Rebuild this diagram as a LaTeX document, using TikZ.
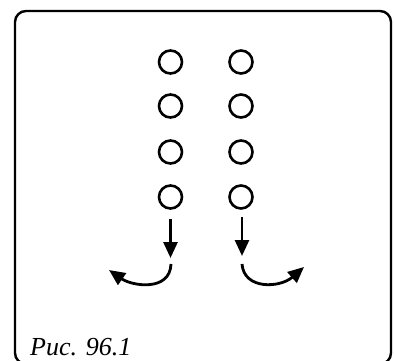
\documentclass[tikz,border=0pt]{standalone}
\usepackage{fontspec}
\setmainfont{Liberation Serif}
\usetikzlibrary{arrows.meta}
\begin{document}
\begin{tikzpicture}[x=1pt,y=-1pt,
  dot/.style={circle,draw,line width=2.6pt,minimum size=23pt,inner sep=0pt},
  arr/.style={line width=2.8pt,-{Triangle[width=14pt,length=16pt]}},
  frame/.style={draw,line width=2.4pt,rounded corners=11pt}]
\useasboundingbox (0,0) rectangle (394,361);
\draw[frame] (15,11) rectangle (391,364);
\foreach \i/\y in {1/62,2/106,3/152,4/197}{
  \node[dot] (l\i) at (170.5,\y) {};
  \node[dot] (r\i) at (241,\y) {};
}
\coordinate (la) at (170.5,219);
\coordinate (lb) at (170.5,258);
\coordinate (ra) at (242,217);
\coordinate (rb) at (242,256);
\draw[arr] (la) -- (lb);
\draw[arr] (ra) -- (rb);
\coordinate (lc) at (171,264);
\coordinate (ld) at (109,270);
\coordinate (rc) at (242,264);
\coordinate (rd) at (304,267);
\draw[arr] (lc) .. controls (170,292) and (132,286) .. (ld);
\draw[arr] (rc) .. controls (244,290) and (280,288) .. (rd);
\node[anchor=base west,inner sep=0pt,font=\fontsize{26}{30}\selectfont\itshape] (cap) at (30,355) {Рис. 96.1};
\end{tikzpicture}
\end{document}
